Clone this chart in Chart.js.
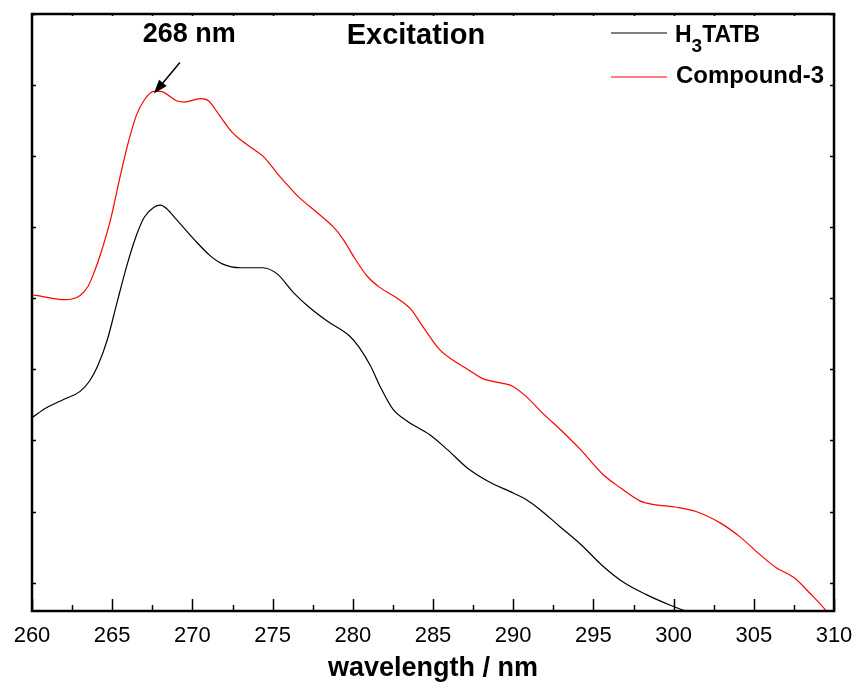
<!DOCTYPE html>
<html>
<head>
<meta charset="utf-8">
<title>Excitation</title>
<script src="https://cdn.jsdelivr.net/npm/chart.js@4.4.1/dist/chart.umd.min.js"></script>
<style>
  html, body { margin: 0; padding: 0; background: #fff; }
  #wrap { width: 856px; height: 688px; position: relative; }
</style>
</head>
<body>
<div id="wrap"><canvas id="excitationChart"></canvas></div>
<script>
// Series (wavelength in nm, intensity in arbitrary units)
const h3tatbX = [260, 260.9, 262, 263, 263.6, 264.1, 264.7, 265.3, 265.9, 266.5, 267, 267.6, 268, 268.4, 269,
    270.1, 271.1, 271.9, 273, 274.4, 275.3, 276.3, 277.3, 278.4, 279.8, 280.4, 281.1, 281.7, 282.5, 283.4,
    284.8, 285.9, 287.1, 288.4, 290, 290.8, 291.6, 292.9, 294.2, 295.6, 296.9, 298.3, 299.8, 300.6, 301.2];
const h3tatbY = [2.32, 2.46, 2.58, 2.69, 2.84, 3.05, 3.42, 3.94, 4.45, 4.88, 5.14, 5.28, 5.31, 5.26, 5.11,
    4.83, 4.60, 4.48, 4.43, 4.43, 4.34, 4.08, 3.87, 3.68, 3.47, 3.31, 3.05, 2.76, 2.44, 2.27,
    2.08, 1.87, 1.62, 1.43, 1.26, 1.17, 1.04, 0.79, 0.54, 0.23, 0.0, -0.17, -0.32, -0.39, -0.45];

const compoundX = [260, 261, 262, 262.5, 263, 263.5, 263.9, 264.3, 264.9, 265.5, 266, 266.5, 267, 267.6, 268,
    269, 269.5, 270.5, 271, 271.7, 272.5, 273, 273.8, 274.4, 275.5, 276.6, 277.75, 278.8, 279.4, 280.1,
    280.9, 281.7, 282.7, 283.6, 284.4, 285.4, 286.3, 287.1, 288.1, 289.2, 290, 290.8, 291.9, 293, 294.2,
    295.6, 296.7, 297.9, 298.7, 300.2, 301.4, 302.9, 304.1, 305.4, 306.4, 307.5, 308.5, 309.55, 309.8];
const compoundY = [4.05, 4.01, 3.98, 3.99, 4.04, 4.17, 4.38, 4.64, 5.11, 5.72, 6.19, 6.57, 6.79, 6.91, 6.91,
    6.78, 6.76, 6.81, 6.78, 6.57, 6.33, 6.23, 6.10, 6.0, 5.70, 5.43, 5.21, 5.0, 4.83, 4.57,
    4.31, 4.15, 4.01, 3.85, 3.59, 3.28, 3.12, 3.01, 2.87, 2.81, 2.76, 2.62, 2.37, 2.14, 1.87,
    1.52, 1.33, 1.15, 1.10, 1.06, 1.00, 0.84, 0.65, 0.39, 0.21, 0.07, -0.15, -0.41, -0.5];

const xTicks = [260, 265, 270, 275, 280, 285, 290, 295, 300, 305, 310];
const yTicks = [0, 1, 2, 3, 4, 5, 6, 7, 8];
const peakWavelength = 268;
const peakLabel = '268 nm';
const titleText = 'Excitation';

const FONT = "'Liberation Sans', Arial, sans-serif";

function toPoints(xs, ys) {
    return xs.map((x, i) => ({ x: x, y: ys[i] }));
}

// Frame, inward ticks, annotation arrow, title and the legend
const decorations = {
    id: 'decorations',
    afterDatasetsDraw(chart) {
        const { ctx, chartArea: a, scales: { x, y } } = chart;
        ctx.save();
        ctx.strokeStyle = '#000';
        ctx.lineWidth = 1.5;

        // minor / major ticks on x (bottom long, top tiny)
        for (let v = 260; v <= 310; v += 2.5) {
            const px = Math.round(x.getPixelForValue(v)) + 0.5;
            const major = v % 5 === 0;
            ctx.beginPath();
            ctx.moveTo(px, a.bottom);
            ctx.lineTo(px, a.bottom - (major ? 12 : 6));
            ctx.moveTo(px, a.top);
            ctx.lineTo(px, a.top + 2);
            ctx.stroke();
        }
        // y ticks left and right
        yTicks.forEach(v => {
            const py = Math.round(y.getPixelForValue(v)) + 0.5;
            ctx.beginPath();
            ctx.moveTo(a.left, py);
            ctx.lineTo(a.left + 4, py);
            ctx.moveTo(a.right, py);
            ctx.lineTo(a.right - 4, py);
            ctx.stroke();
        });

        // frame
        ctx.lineWidth = 2.5;
        ctx.strokeRect(a.left, a.top, a.right - a.left, a.bottom - a.top);

        // arrow pointing at the peak
        const tipX = x.getPixelForValue(267.6);
        const tipY = y.getPixelForValue(6.88);
        const startX = tipX + 26, startY = tipY - 31;
        const ang = Math.atan2(tipY - startY, tipX - startX);
        ctx.lineWidth = 1.5;
        ctx.beginPath();
        ctx.moveTo(startX, startY);
        ctx.lineTo(tipX - 10 * Math.cos(ang), tipY - 10 * Math.sin(ang));
        ctx.stroke();
        ctx.fillStyle = '#000';
        ctx.beginPath();
        ctx.moveTo(tipX, tipY);
        ctx.lineTo(tipX - 14 * Math.cos(ang) + 5 * Math.sin(ang), tipY - 14 * Math.sin(ang) - 5 * Math.cos(ang));
        ctx.lineTo(tipX - 14 * Math.cos(ang) - 5 * Math.sin(ang), tipY - 14 * Math.sin(ang) + 5 * Math.cos(ang));
        ctx.closePath();
        ctx.fill();

        // texts
        ctx.fillStyle = '#000';
        ctx.textBaseline = 'alphabetic';
        ctx.textAlign = 'center';
        ctx.font = 'bold 27px ' + FONT;
        ctx.fillText(peakLabel, x.getPixelForValue(peakWavelength) + 29, a.top + 28);
        ctx.font = 'bold 29px ' + FONT;
        ctx.fillText(titleText, 416, a.top + 30);

        // legend
        const sets = chart.data.datasets;
        const rows = [a.top + 19, a.top + 63];
        ctx.textAlign = 'left';
        sets.forEach((ds, i) => {
            ctx.strokeStyle = ds.borderColor;
            ctx.lineWidth = 1.2;
            ctx.beginPath();
            ctx.moveTo(611, rows[i]);
            ctx.lineTo(667, rows[i]);
            ctx.stroke();
        });
        let tx = 675;
        const base0 = rows[0] + 9;
        ctx.font = 'bold 23px ' + FONT;
        ctx.fillText('H', tx, base0);
        tx += ctx.measureText('H').width;
        ctx.font = 'bold 19px ' + FONT;
        ctx.fillText('3', tx, base0 + 10);
        tx += ctx.measureText('3').width;
        ctx.font = 'bold 23px ' + FONT;
        ctx.fillText('TATB', tx, base0);
        ctx.font = 'bold 24px ' + FONT;
        ctx.fillText(sets[1].label, 676, rows[1] + 6);

        ctx.restore();
    }
};

new Chart(document.getElementById('excitationChart'), {
    type: 'line',
    data: {
        datasets: [{
            label: 'H₃TATB',
            data: toPoints(h3tatbX, h3tatbY),
            borderColor: '#000000',
            borderWidth: 1.2,
            pointRadius: 0,
            cubicInterpolationMode: 'monotone',
            fill: false
        }, {
            label: 'Compound-3',
            data: toPoints(compoundX, compoundY),
            borderColor: '#ff0000',
            borderWidth: 1.2,
            pointRadius: 0,
            cubicInterpolationMode: 'monotone',
            fill: false
        }]
    },
    options: {
        responsive: true,
        maintainAspectRatio: false,
        animation: false,
        layout: { padding: { left: 32, right: 22, top: 14, bottom: 0 } },
        plugins: {
            legend: { display: false },
            tooltip: { enabled: false }
        },
        scales: {
            x: {
                type: 'linear',
                min: 260,
                max: 310,
                afterBuildTicks: scale => { scale.ticks = xTicks.map(v => ({ value: v })); },
                afterFit: scale => {
                    scale.height = 77;
                    scale.paddingLeft = 0;
                    scale.paddingRight = 0;
                },
                ticks: {
                    color: '#000',
                    font: { family: FONT, size: 22 },
                    padding: 12,
                    maxRotation: 0,
                    autoSkip: false
                },
                grid: { display: false, drawTicks: false },
                border: { display: false },
                title: {
                    display: true,
                    text: 'wavelength / nm',
                    color: '#000',
                    font: { family: FONT, size: 27, weight: 'bold' },
                    padding: { top: 0, bottom: 3 }
                }
            },
            y: {
                type: 'linear',
                min: -0.4,
                max: 8,
                display: false
            }
        }
    },
    plugins: [decorations]
});
</script>
</body>
</html>
